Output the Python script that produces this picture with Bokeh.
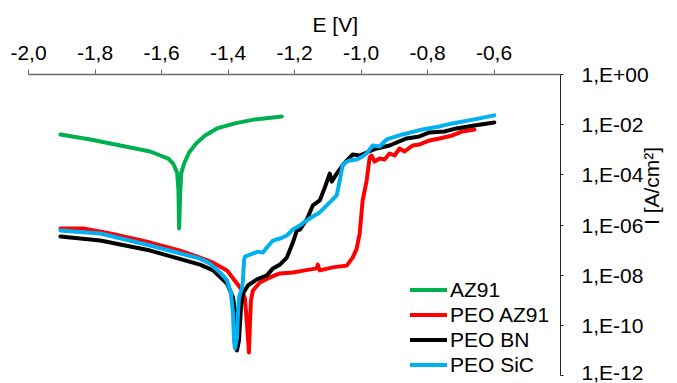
import numpy as np
from bokeh.plotting import figure
from bokeh.models import FixedTicker
from bokeh.embed import file_html
from bokeh.resources import INLINE

# ---- axis ticks ----
x_ticks = [-2.0, -1.8, -1.6, -1.4, -1.2, -1.0, -0.8, -0.6]
x_tick_labels = ["-2,0", "-1,8", "-1,6", "-1,4", "-1,2", "-1,0", "-0,8", "-0,6"]
y_ticks = [1e0, 1e-2, 1e-4, 1e-6, 1e-8, 1e-10, 1e-12]
y_tick_labels = ["1,E+00", "1,E-02", "1,E-04", "1,E-06", "1,E-08", "1,E-10", "1,E-12"]

series_names = ["AZ91", "PEO AZ91", "PEO BN", "PEO SiC"]
series_colors = ["#00B050", "#FF0000", "#000000", "#00B0F0"]

# ---- data: potential E [V] and log10 of current density I [A/cm2] ----
az91_E = [-1.904, -1.814, -1.724, -1.634, -1.580, -1.565, -1.553, -1.549, -1.547,
          -1.544, -1.541, -1.532, -1.517, -1.496, -1.469, -1.433, -1.379, -1.319, -1.238]
az91_logI = [-2.39, -2.59, -2.83, -3.07, -3.35, -3.55, -3.91, -4.62, -6.14,
             -4.82, -3.95, -3.55, -3.11, -2.75, -2.43, -2.15, -1.95, -1.79, -1.67]

peo_az91_E = [-1.904, -1.835, -1.754, -1.634, -1.544, -1.484, -1.445, -1.403, -1.373,
              -1.358, -1.349, -1.343, -1.337,
              -1.334, -1.331, -1.325, -1.304, -1.274, -1.244, -1.205, -1.169, -1.133,
              -1.130, -1.124, -1.085, -1.064, -1.043, -1.025, -1.013, -1.004, -0.995,
              -0.983, -0.974, -0.968, -0.959, -0.944, -0.929, -0.914, -0.899, -0.884,
              -0.869, -0.845, -0.824, -0.794, -0.764, -0.725, -0.695, -0.659]
peo_az91_logI = [-6.14, -6.14, -6.34, -6.70, -7.02, -7.30, -7.50, -7.81, -8.33,
                 -8.61, -8.93, -9.93, -11.08,
                 -9.93, -9.01, -8.61, -8.29, -8.09, -7.93, -7.89, -7.81, -7.73,
                 -7.58, -7.81, -7.69, -7.65, -7.62, -7.30, -6.94, -6.34, -5.02,
                 -4.23, -3.31, -3.23, -3.47, -3.35, -3.39, -3.15, -3.23, -2.95,
                 -3.07, -2.83, -2.79, -2.63, -2.55, -2.43, -2.27, -2.19]

peo_bn_E = [-1.904, -1.784, -1.634, -1.484, -1.445, -1.403, -1.385, -1.376, -1.373,
            -1.367, -1.361, -1.355, -1.340, -1.313, -1.283, -1.265, -1.244, -1.223,
            -1.205, -1.193, -1.184, -1.163, -1.145, -1.124, -1.109, -1.094, -1.088,
            -1.073, -1.058, -1.043, -1.025, -1.004, -0.983, -0.953, -0.914, -0.863,
            -0.824, -0.794, -0.749, -0.713, -0.659, -0.599]
peo_bn_logI = [-6.46, -6.62, -7.02, -7.58, -7.81, -8.33, -8.89, -9.69, -11.00,
               -10.61, -9.29, -8.73, -8.41, -8.17, -8.01, -7.73, -7.58, -7.30,
               -6.70, -6.22, -6.18, -5.78, -5.22, -5.02, -4.51, -3.95, -4.27,
               -3.95, -3.67, -3.43, -3.19, -3.23, -3.11, -2.95, -2.83, -2.55,
               -2.47, -2.31, -2.27, -2.15, -2.03, -1.91]

peo_sic_E = [-1.904, -1.784, -1.634, -1.484, -1.454, -1.424, -1.403, -1.391, -1.385,
             -1.382, -1.379,
             -1.373, -1.370, -1.367, -1.358, -1.355, -1.352, -1.349, -1.334, -1.310,
             -1.295, -1.283, -1.265, -1.244, -1.223, -1.205, -1.184, -1.154, -1.145,
             -1.124, -1.103, -1.073, -1.064, -1.055, -1.043, -1.034, -1.013, -0.995,
             -0.983, -0.965, -0.944, -0.923, -0.875, -0.815, -0.764, -0.725, -0.659,
             -0.599]
peo_sic_logI = [-6.22, -6.34, -6.82, -7.34, -7.54, -7.89, -8.21, -8.73, -9.53,
                -10.61, -10.92,
                -10.49, -9.53, -8.89, -8.49, -8.21, -7.42, -7.26, -7.18, -7.06,
                -7.10, -6.90, -6.62, -6.54, -6.42, -6.18, -6.02, -5.74, -5.66,
                -5.50, -5.22, -4.82, -4.23, -3.59, -3.47, -3.43, -3.39, -3.27,
                -3.15, -2.83, -2.87, -2.59, -2.39, -2.19, -2.07, -1.95, -1.79,
                -1.63]

series_E = [az91_E, peo_az91_E, peo_bn_E, peo_sic_E]
series_logI = [az91_logI, peo_az91_logI, peo_bn_logI, peo_sic_logI]

FONT = "Liberation Sans"

p = figure(width=677, height=383, output_backend="svg", toolbar_location=None,
           x_range=(-2.0, -0.4), y_range=(1e-12, 1e0), y_axis_type="log",
           x_axis_location="above", y_axis_location="right",
           min_border_left=28, min_border_right=116, min_border_top=74,
           min_border_bottom=8)
p.outline_line_color = None
p.grid.visible = False
p.background_fill_color = "white"
p.border_fill_color = "white"

for name, color, E, logI in zip(series_names, series_colors, series_E, series_logI):
    p.line(E, 10.0 ** np.array(logI), line_color=color, line_width=4,
           legend_label=name, line_join="round", line_cap="round")

# x axis (top)
xa = p.xaxis[0]
xa.ticker = FixedTicker(ticks=x_ticks)
xa.major_label_overrides = {t: l for t, l in zip(x_ticks, x_tick_labels)}
xa.major_tick_out = 5
xa.major_tick_in = 0
xa.minor_tick_line_color = None
xa.axis_line_color = "#6b6b6b"
xa.major_tick_line_color = "#6b6b6b"
xa.axis_line_width = 1.5
xa.major_label_text_font = FONT
xa.major_label_text_font_size = "21px"
xa.major_label_text_color = "black"
xa.major_label_standoff = 10

# title of the x axis, placed above the tick labels
p.title.text = "E [V]"
p.title.align = "left"
p.title.offset = 284
p.title.text_font = FONT
p.title.text_font_size = "21px"
p.title.text_font_style = "normal"
p.title.text_color = "black"
p.title.standoff = 13

# y axis (right)
ya = p.yaxis[0]
ya.ticker = FixedTicker(ticks=y_ticks)
ya.major_label_overrides = {t: l for t, l in zip(y_ticks, y_tick_labels)}
ya.major_tick_out = 3
ya.major_tick_in = 0
ya.minor_tick_line_color = None
ya.axis_line_color = "#222222"
ya.major_tick_line_color = "#222222"
ya.major_label_text_font = FONT
ya.major_label_text_font_size = "21px"
ya.major_label_text_color = "black"
ya.major_label_standoff = 18
ya.axis_label = "I [A/cm²]"
ya.axis_label_text_font = FONT
ya.axis_label_text_font_size = "21px"
ya.axis_label_text_font_style = "normal"
ya.axis_label_text_color = "black"
ya.axis_label_standoff = 0
if "axis_label_orientation" in ya.properties():
    ya.axis_label_orientation = np.pi / 2

leg = p.legend[0]
leg.location = (382, -2)
leg.padding = 0
leg.margin = 0
leg.spacing = 0
leg.border_line_color = None
leg.background_fill_alpha = 0
leg.glyph_width = 37
leg.glyph_height = 25
leg.label_height = 25
leg.label_standoff = 3
leg.label_text_font = FONT
leg.label_text_font_size = "21px"
leg.label_text_color = "black"

open("out.html", "w").write(file_html(p, INLINE))
